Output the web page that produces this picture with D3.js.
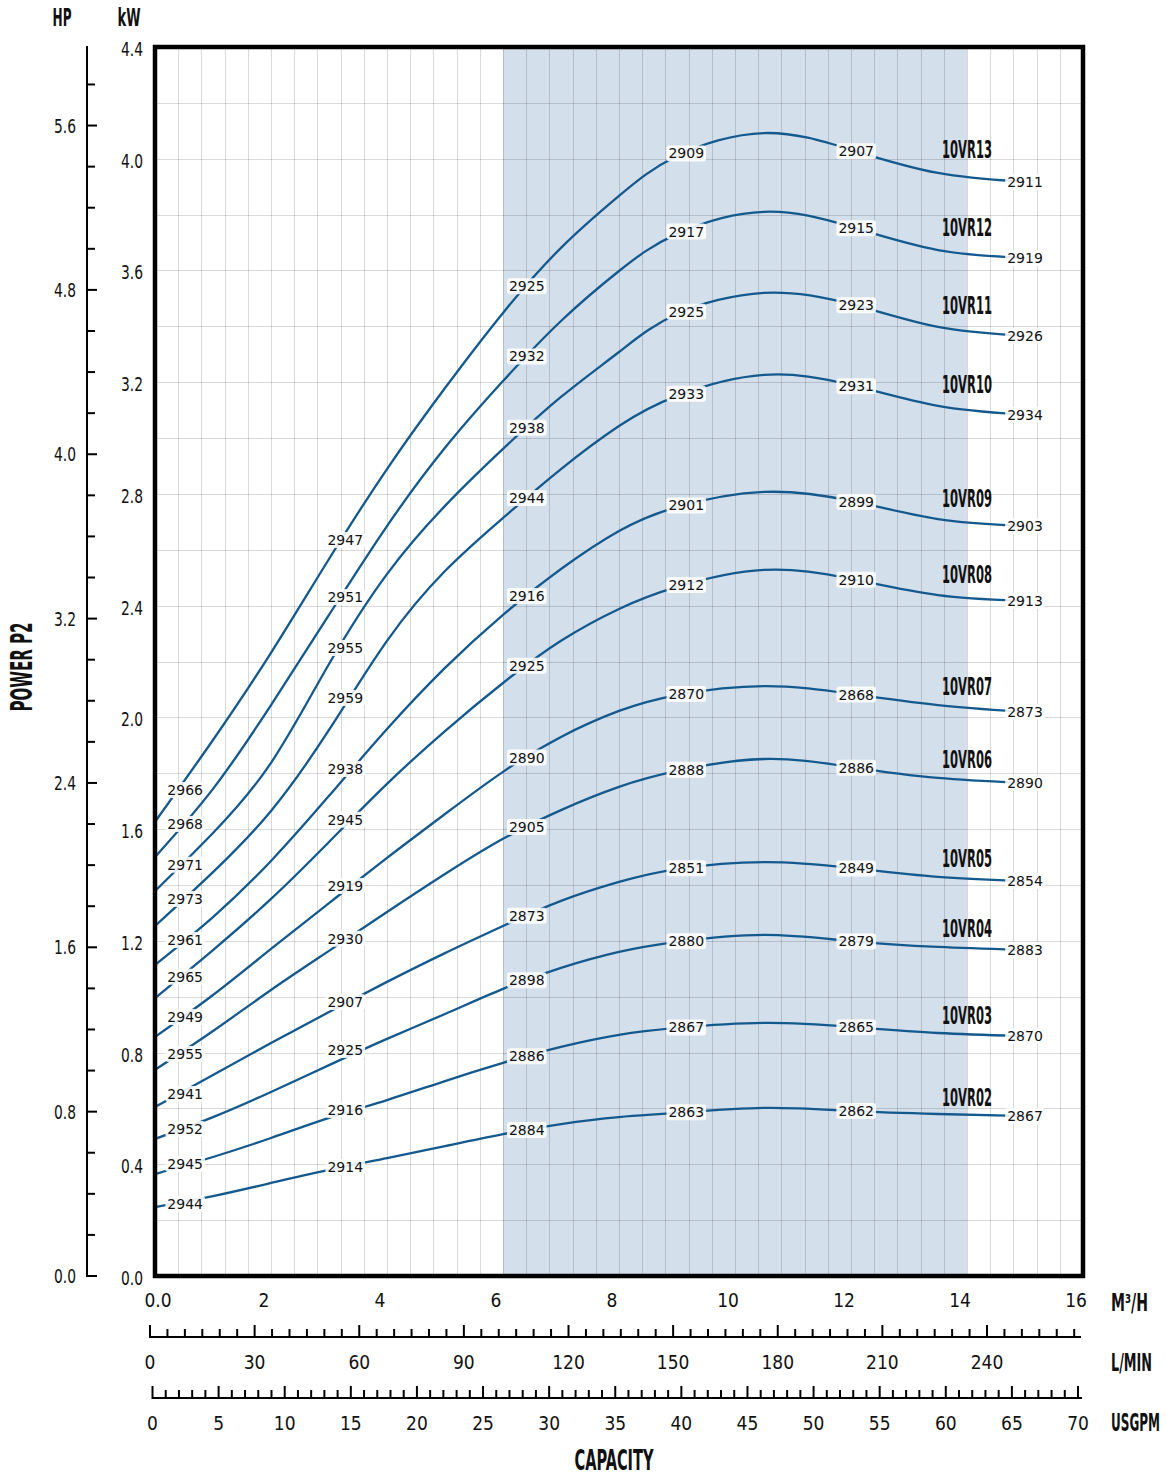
<!DOCTYPE html>
<html><head><meta charset="utf-8">
<script src="https://cdn.jsdelivr.net/npm/d3@7"></script>
<style>
body{margin:0;background:#fff;}
svg{display:block;}
</style></head><body>
<svg id="c" width="1167" height="1477"></svg>
<script>
// ---------- DATA ----------
const models = ["10VR13","10VR12","10VR11","10VR10","10VR09","10VR08","10VR07","10VR06","10VR05","10VR04","10VR03","10VR02"];
const flowQ = [0, 1, 2, 3, 4, 5, 6, 7, 8, 9, 10.5, 12, 13.5, 15];
const p10VR13 = [1.626,1.919,2.231,2.567,2.889,3.179,3.448,3.681,3.867,4.010,4.092,4.032,3.949,3.917];
const p10VR12 = [1.500,1.744,2.044,2.367,2.685,2.965,3.204,3.419,3.598,3.731,3.810,3.756,3.673,3.645];
const p10VR11 = [1.378,1.586,1.837,2.191,2.513,2.757,2.961,3.147,3.308,3.444,3.520,3.480,3.398,3.366];
const p10VR10 = [1.253,1.446,1.665,1.955,2.274,2.524,2.714,2.889,3.043,3.151,3.226,3.190,3.115,3.083];
const p10VR09 = [1.114,1.285,1.486,1.719,1.958,2.177,2.367,2.531,2.667,2.753,2.807,2.775,2.710,2.685];
const p10VR08 = [0.995,1.167,1.350,1.554,1.762,1.951,2.123,2.274,2.388,2.467,2.528,2.496,2.438,2.417];
const p10VR07 = [0.856,1.006,1.171,1.335,1.497,1.654,1.805,1.930,2.023,2.080,2.112,2.084,2.044,2.019];
const p10VR06 = [0.738,0.877,1.024,1.164,1.303,1.439,1.565,1.668,1.751,1.808,1.851,1.822,1.783,1.765];
const p10VR05 = [0.605,0.720,0.834,0.945,1.053,1.156,1.253,1.343,1.411,1.457,1.482,1.461,1.429,1.414];
const p10VR04 = [0.491,0.569,0.659,0.755,0.849,0.938,1.028,1.103,1.160,1.196,1.221,1.199,1.178,1.167];
const p10VR03 = [0.365,0.426,0.494,0.566,0.630,0.698,0.763,0.820,0.863,0.888,0.906,0.892,0.870,0.859];
const p10VR02 = [0.247,0.286,0.333,0.380,0.422,0.465,0.508,0.544,0.569,0.584,0.602,0.591,0.580,0.573];
const powerSeries = [p10VR13,p10VR12,p10VR11,p10VR10,p10VR09,p10VR08,p10VR07,p10VR06,p10VR05,p10VR04,p10VR03,p10VR02];

// speed (rpm) labels at label flow positions
const labelQ = [0.52, 3.28, 6.41, 9.16, 12.09, 15.0];
const rpm10VR13 = [2966,2947,2925,2909,2907,2911];
const rpm10VR12 = [2968,2951,2932,2917,2915,2919];
const rpm10VR11 = [2971,2955,2938,2925,2923,2926];
const rpm10VR10 = [2973,2959,2944,2933,2931,2934];
const rpm10VR09 = [2961,2938,2916,2901,2899,2903];
const rpm10VR08 = [2965,2945,2925,2912,2910,2913];
const rpm10VR07 = [2949,2919,2890,2870,2868,2873];
const rpm10VR06 = [2955,2930,2905,2888,2886,2890];
const rpm10VR05 = [2941,2907,2873,2851,2849,2854];
const rpm10VR04 = [2952,2925,2898,2880,2879,2883];
const rpm10VR03 = [2945,2916,2886,2867,2865,2870];
const rpm10VR02 = [2944,2914,2884,2863,2862,2867];
const rpmSeries = [rpm10VR13,rpm10VR12,rpm10VR11,rpm10VR10,rpm10VR09,rpm10VR08,rpm10VR07,rpm10VR06,rpm10VR05,rpm10VR04,rpm10VR03,rpm10VR02];
// label heights (kW) of the first two label columns
const labelKwCol0 = [1.740,1.618,1.472,1.350,1.203,1.071,0.927,0.795,0.652,0.526,0.401,0.258];
const labelKwCol1 = [2.635,2.431,2.248,2.069,1.815,1.633,1.396,1.207,0.981,0.809,0.594,0.390];

const bepRange = [6, 14];           // shaded band, m3/h
const modelLabelQ = 14;
const kwTicks = [0,0.4,0.8,1.2,1.6,2.0,2.4,2.8,3.2,3.6,4.0,4.4];
const hpTicks = [0,0.8,1.6,2.4,3.2,4.0,4.8,5.6];
const m3hTicks = [0,2,4,6,8,10,12,14,16];
const lminTicks = [0,30,60,90,120,150,180,210,240];
const gpmTicks = [0,5,10,15,20,25,30,35,40,45,50,55,60,65,70];

// ---------- SETUP ----------
const svg = d3.select("#c");
const NUMF = "'Liberation Sans Narrow','Arial Narrow','DejaVu Sans Condensed',sans-serif";
const LBLF = "'DejaVu Sans',sans-serif";
const HP_KW = 0.7355;
const x = d3.scaleLinear().domain([0,16]).range([155,1083]);
const y = d3.scaleLinear().domain([0,4.4]).range([1276,47]);
const yHp = d3.scaleLinear().domain([0,4.4/HP_KW]).range([1276,47]);
const xL = d3.scaleLinear().domain([0,16*1000/60]).range([150,1080]);
const xG = d3.scaleLinear().domain([0,70]).range([152.5,1078]);
const lineCol = "#14598d";

// text helper: target = px width to squeeze to, or a direct scale factor (<3)
function cond(g, px, py, txt, size, target, anchor, weight, rot){
  const t = g.append("text")
    .attr("text-anchor", anchor||"middle")
    .attr("font-family", NUMF)
    .attr("font-size", size)
    .attr("font-weight", weight||"normal")
    .attr("fill","#111")
    .text(txt);
  let sx = 1;
  if (target) {
    const w = t.node().getComputedTextLength();
    sx = target < 3 ? target : target / w;
  }
  t.attr("transform", `translate(${px},${py})` + (rot?` rotate(${rot})`:"") + ` scale(${sx},1)`);
  return t;
}

// shaded band
svg.append("rect")
  .attr("x", x(bepRange[0])).attr("y", y(4.4))
  .attr("width", x(bepRange[1]) - x(bepRange[0]))
  .attr("height", y(0) - y(4.4))
  .attr("fill", "#d4dfec");

// grid
const grid = svg.append("g").attr("stroke","rgba(0,0,0,0.15)").attr("stroke-width",1);
d3.range(1, 40).forEach(i => {
  const gx = Math.round(x(i*0.4)) + 0.5;
  grid.append("line").attr("x1",gx).attr("x2",gx).attr("y1",y(4.4)).attr("y2",y(0));
});
d3.range(1, 22).forEach(i => {
  const gy = Math.round(y(i*0.2)) + 0.5;
  grid.append("line").attr("y1",gy).attr("y2",gy).attr("x1",x(0)).attr("x2",x(16));
});

// curves
const line = d3.line().x(d => x(d[0])).y(d => y(d[1])).curve(d3.curveNatural);
const curvesG = svg.append("g");
powerSeries.forEach(ser => {
  curvesG.append("path")
    .attr("d", line(flowQ.map((q,i)=>[q, ser[i]])))
    .attr("fill","none").attr("stroke",lineCol).attr("stroke-width",2.3);
});

// rpm labels
const labG = svg.append("g");
powerSeries.forEach((ser, si) => {
  const interp = d3.scaleLinear().domain(flowQ).range(ser);
  rpmSeries[si].forEach((rpm, ci) => {
    const q = labelQ[ci];
    let kw;
    if (ci === 0) kw = labelKwCol0[si];
    else if (ci === 1) kw = labelKwCol1[si];
    else kw = interp(q);
    const cx = x(q), cy = y(kw);
    const g = labG.append("g");
    const rect = g.append("rect").attr("fill","rgba(255,255,255,0.88)").attr("rx",3);
    const t = g.append("text").attr("x",cx).attr("y",cy+5)
      .attr("text-anchor","middle").attr("font-family",LBLF).attr("font-size",14)
      .attr("fill","#111").text(rpm);
    const w = t.node().getComputedTextLength();
    rect.attr("x", cx - w/2 - 2).attr("y", cy - 8).attr("width", w + 4).attr("height", 16);
  });
});

// model labels (common squeeze so that "10VR13" is ~50px wide)
const modG = svg.append("g");
const probe = svg.append("text").attr("font-family",NUMF).attr("font-size",24).attr("font-weight","bold").text("10VR13");
const modelSx = 50 / probe.node().getComputedTextLength();
probe.remove();
powerSeries.forEach((ser, si) => {
  const interp = d3.scaleLinear().domain(flowQ).range(ser);
  const kw = interp(modelLabelQ);
  const gap = 16 + 2.6 * kw;   // label sits higher above steeper/higher curves
  cond(modG, x(modelLabelQ), y(kw) - gap + 8.5, models[si], 24, modelSx, "middle", "bold");
});

// frame
svg.append("rect").attr("x",x(0)).attr("y",y(4.4)).attr("width",x(16)-x(0)).attr("height",y(0)-y(4.4))
  .attr("fill","none").attr("stroke","#000").attr("stroke-width",4.5);

// kW labels
const axG = svg.append("g");
kwTicks.forEach(v => cond(axG, 143, y(v)+9, v.toFixed(1), 19, 22, "end"));
// HP axis
axG.append("line").attr("x1",87).attr("x2",87).attr("y1",46).attr("y2",1277).attr("stroke","#000").attr("stroke-width",2);
d3.range(0, 30).forEach(i => {
  const v = i*0.2;
  if (yHp(v) < 50) return;
  const major = i % 4 === 0;
  axG.append("line").attr("x1",86).attr("x2",major?97:95).attr("y1",yHp(v)).attr("y2",yHp(v))
    .attr("stroke","#000").attr("stroke-width",2);
});
hpTicks.forEach(v => cond(axG, 76, yHp(v)+7, v.toFixed(1), 19, 22, "end"));

cond(axG, 62, 26, "HP", 24, 19, "middle", "bold");
cond(axG, 129, 26, "kW", 24, 23, "middle", "bold");
cond(axG, 32, 667, "POWER P2", 30, 89, "middle", "bold", -90);

// m3/h labels
m3hTicks.forEach(v => cond(axG, x(v) + (v===0?3:-7), 1307, v===0?"0.0":String(v), 19, null, "middle"));
// L/min axis
const lY = 1337;
axG.append("line").attr("x1",149).attr("x2",1081).attr("y1",lY).attr("y2",lY).attr("stroke","#000").attr("stroke-width",2);
d3.range(0, 266, 5).forEach(v => {
  const major = v % 30 === 0;
  axG.append("line").attr("x1",xL(v)).attr("x2",xL(v)).attr("y1",lY+1).attr("y2",lY-(major?12:8))
    .attr("stroke","#000").attr("stroke-width",2);
});
lminTicks.forEach(v => cond(axG, xL(v), 1369, String(v), 19, null, "middle"));
// USGPM axis
const gY = 1398;
axG.append("line").attr("x1",152).attr("x2",1082).attr("y1",gY).attr("y2",gY).attr("stroke","#000").attr("stroke-width",2);
d3.range(0, 71, 1).forEach(v => {
  const major = v % 5 === 0;
  axG.append("line").attr("x1",xG(v)).attr("x2",xG(v)).attr("y1",gY+1).attr("y2",gY-(major?12:8))
    .attr("stroke","#000").attr("stroke-width",2);
});
gpmTicks.forEach(v => cond(axG, xG(v), 1430, String(v), 19, null, "middle"));

// unit labels
cond(axG, 1111, 1311, "M³/H", 24, 37, "start", "bold");
cond(axG, 1111, 1371, "L/MIN", 24, 41, "start", "bold");
cond(axG, 1111, 1431, "USGPM", 24, 49, "start", "bold");
cond(axG, 614, 1470, "CAPACITY", 28, 79, "middle", "bold");
</script>
</body></html>
